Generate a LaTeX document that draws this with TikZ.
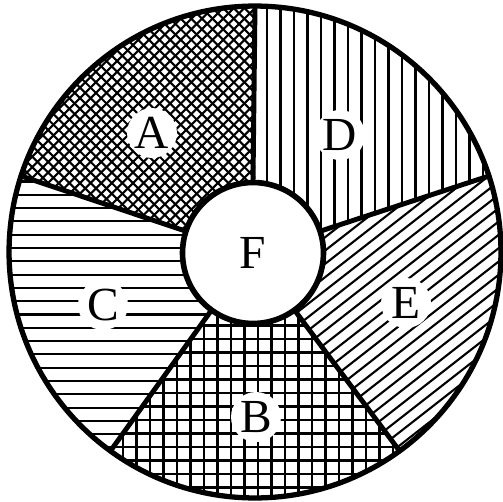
\documentclass[tikz,border=0pt]{standalone}
\usepackage{fontspec}
\setmainfont{Liberation Serif}
\tikzset{
  rim/.style   = {circle, draw, line width=3pt, minimum size=9.84cm,
                  inner sep=0pt, outer sep=0pt},
  hub/.style   = {circle, draw, fill=white, line width=3.2pt, minimum size=2.82cm,
                  inner sep=0pt, outer sep=0pt, font=\fontsize{27}{27}\selectfont},
  % white patch behind each letter, the hatching stops round it
  tag/.style   = {circle, fill=white, minimum size=1.0cm, inner sep=0pt,
                  font=\fontsize{27}{27}\selectfont},
  spoke/.style = {line width=2.8pt},
  hatch/.style = {line width=1.2pt},
}

\begin{document}
\begin{tikzpicture}[x=0.02cm, y=0.02cm]
  \useasboundingbox (-255,-249) rectangle (248,252);

  % A: cross hatch
  \begin{scope}
    \clip (0,0) -- (90:246) arc[start angle=90, end angle=162, radius=246] -- cycle;
    \foreach \k in {-36,...,36} {
      \draw[hatch, rotate=45]  (\k*7.5,-260) -- (\k*7.5,260);
      \draw[hatch, rotate=-45] (\k*7.5,-260) -- (\k*7.5,260);
    }
  \end{scope}

  % D: vertical lines
  \begin{scope}
    \clip (0,0) -- (18:246) arc[start angle=18, end angle=90, radius=246] -- cycle;
    \foreach \k in {-1,...,19}
      \draw[hatch] (12+\k*13.5,-10) -- (12+\k*13.5,260);
  \end{scope}

  % E: slanted lines
  \begin{scope}
    \clip (0,0) -- (-54:246) arc[start angle=-54, end angle=18, radius=246] -- cycle;
    \foreach \k in {-26,...,26}
      \draw[hatch, rotate=-52] (\k*10.5,-260) -- (\k*10.5,260);
  \end{scope}

  % B: square grid
  \begin{scope}
    \clip (0,0) -- (234:246) arc[start angle=234, end angle=306, radius=246] -- cycle;
    \foreach \k in {-20,...,20} {
      \draw[hatch] (3+\k*13.5,-260) -- (3+\k*13.5,10);
      \draw[hatch] (-260,-6+\k*13.5) -- (260,-6+\k*13.5);
    }
  \end{scope}

  % C: horizontal lines
  \begin{scope}
    \clip (0,0) -- (162:246) arc[start angle=162, end angle=234, radius=246] -- cycle;
    \foreach \k in {-20,...,20}
      \draw[hatch] (-260,4+\k*13.3) -- (10,4+\k*13.3);
  \end{scope}

  \node[tag] (A) at (-103,119) {A};
  \node[tag] (D) at (85,117)   {D};
  \node[tag] (E) at (151,-51)  {E};
  \node[tag] (B) at (1,-165)   {B};
  \node[tag] (C) at (-152,-53) {C};

  \node[rim] (rim) at (0,0) {};
  \node[hub] (F) at (-2,-1) {F};

  \foreach \a in {18,90,162,234,306}
    \draw[spoke] (F.\a) -- (rim.\a);
\end{tikzpicture}
\end{document}
